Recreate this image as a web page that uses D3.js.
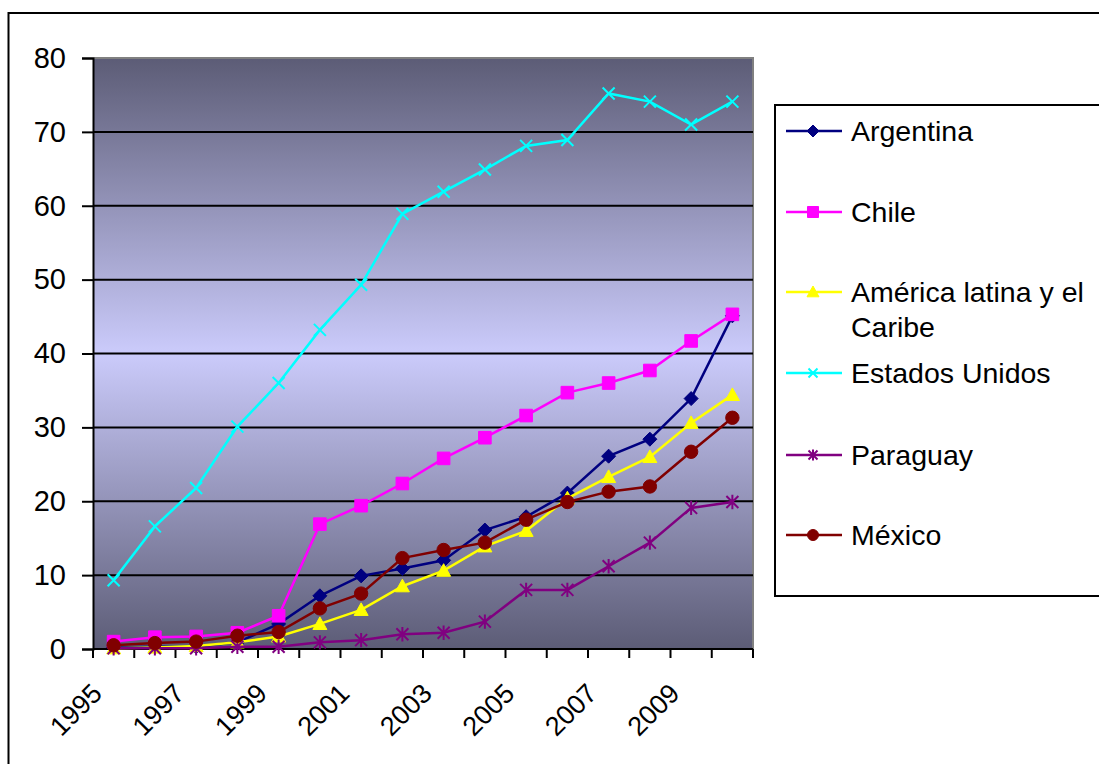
<!DOCTYPE html>
<html>
<head>
<meta charset="utf-8">
<script src="https://cdn.jsdelivr.net/npm/d3@7"></script>
<style>
  html, body { margin: 0; padding: 0; background: #ffffff; }
  svg { display: block; font-family: "Liberation Sans", Arial, sans-serif; }
</style>
</head>
<body>
<svg id="chart" width="1099" height="764"></svg>
<script>
// Years on the category axis
const years = [1995, 1996, 1997, 1998, 1999, 2000, 2001, 2002, 2003, 2004, 2005, 2006, 2007, 2008, 2009, 2010];
const yearLabels = ["1995", "1997", "1999", "2001", "2003", "2005", "2007", "2009"];
const yTicks = [0, 10, 20, 30, 40, 50, 60, 70, 80];

// Series values per year
const argentina = [0.2, 0.3, 0.3, 0.9, 3.4, 7.2, 9.9, 10.9, 12.0, 16.1, 17.9, 21.1, 26.1, 28.4, 33.9, 45.1];
const chile     = [1.0, 1.6, 1.7, 2.2, 4.5, 16.9, 19.4, 22.4, 25.8, 28.6, 31.6, 34.7, 36.0, 37.7, 41.7, 45.3];
const americaLatina = [0.1, 0.2, 0.4, 0.9, 1.7, 3.4, 5.3, 8.5, 10.6, 13.9, 16.0, 20.4, 23.3, 26.0, 30.6, 34.4];
const estadosUnidos = [9.3, 16.6, 21.8, 30.1, 36.0, 43.2, 49.3, 58.9, 61.9, 64.9, 68.1, 68.9, 75.2, 74.1, 71.0, 74.1];
const paraguay  = [0.1, 0.1, 0.1, 0.3, 0.3, 0.9, 1.2, 2.0, 2.2, 3.7, 8.0, 8.0, 11.2, 14.4, 19.1, 19.9];
const mexico    = [0.5, 0.8, 1.0, 1.8, 2.3, 5.5, 7.5, 12.3, 13.4, 14.4, 17.5, 19.9, 21.3, 22.0, 26.7, 31.3];

const seriesNames = ["Argentina", "Chile", "América latina y el\nCaribe", "Estados Unidos", "Paraguay", "México"];
const seriesValues = [argentina, chile, americaLatina, estadosUnidos, paraguay, mexico];
const seriesColors = ["#000080", "#ff00ff", "#ffff00", "#00ffff", "#800080", "#800000"];
const seriesMarkers = ["diamond", "square", "triangle", "x", "star", "circle"];

const svg = d3.select("#chart");

const plot = { left: 93, right: 753, top: 58, bottom: 649 };
const fontSize = 29;

const x = d3.scaleBand().domain(years).range([plot.left, plot.right]).padding(0);
const y = d3.scaleLinear().domain([0, 80]).range([plot.bottom, plot.top]);
const cx = yr => x(yr) + x.bandwidth() / 2;

// Outer chart frame
svg.append("rect")
  .attr("x", 8.5).attr("y", 13).attr("width", 1200).attr("height", 900)
  .attr("fill", "#ffffff").attr("stroke", "#000000").attr("stroke-width", 2);

// Plot background gradient
const defs = svg.append("defs");
const grad = defs.append("linearGradient")
  .attr("id", "plotBg").attr("x1", 0).attr("y1", 0).attr("x2", 0).attr("y2", 1);
grad.append("stop").attr("offset", "0%").attr("stop-color", "#5c5c76");
grad.append("stop").attr("offset", "50%").attr("stop-color", "#cbcbfb");
grad.append("stop").attr("offset", "100%").attr("stop-color", "#5c5c76");

svg.append("rect")
  .attr("x", plot.left).attr("y", plot.top)
  .attr("width", plot.right - plot.left).attr("height", plot.bottom - plot.top)
  .attr("fill", "url(#plotBg)");

// Plot border (top and right in grey)
svg.append("path")
  .attr("d", `M${plot.left},${plot.top}H${plot.right}V${plot.bottom}`)
  .attr("fill", "none").attr("stroke", "#808080").attr("stroke-width", 2);

// Horizontal gridlines
svg.append("g")
  .selectAll("line")
  .data(yTicks.filter(t => t > 0 && t < 80))
  .join("line")
  .attr("x1", plot.left).attr("x2", plot.right)
  .attr("y1", d => y(d)).attr("y2", d => y(d))
  .attr("stroke", "#000000").attr("stroke-width", 2);

// Y axis
const yAxis = svg.append("g")
  .attr("transform", `translate(${plot.left},0)`)
  .call(d3.axisLeft(y).tickValues(yTicks).tickSize(11).tickPadding(16));
yAxis.select(".domain").attr("stroke", "#000000").attr("stroke-width", 2);
yAxis.selectAll(".tick line").attr("stroke", "#000000").attr("stroke-width", 2);
yAxis.selectAll(".tick text")
  .attr("font-size", fontSize).attr("fill", "#000000")
  .attr("font-family", "'Liberation Sans', Arial, sans-serif");

// X axis line and category boundary ticks
const xg = svg.append("g");
xg.append("line")
  .attr("x1", plot.left).attr("x2", plot.right)
  .attr("y1", plot.bottom).attr("y2", plot.bottom)
  .attr("stroke", "#000000").attr("stroke-width", 2);
const boundaries = years.map(yr => x(yr)).concat([x(years[years.length - 1]) + x.bandwidth()]);
xg.selectAll("line.tick")
  .data(boundaries)
  .join("line")
  .attr("class", "tick")
  .attr("x1", d => d).attr("x2", d => d)
  .attr("y1", plot.bottom).attr("y2", plot.bottom + 9)
  .attr("stroke", "#000000").attr("stroke-width", 2);

// Rotated year labels
xg.selectAll("text")
  .data(yearLabels)
  .join("text")
  .attr("transform", d => `translate(${cx(+d) - 10},${plot.bottom + 46}) rotate(-45)`)
  .attr("text-anchor", "end")
  .attr("font-size", 27)
  .attr("fill", "#000000")
  .text(d => d);

// Marker shapes
function markerPath(type, s) {
  switch (type) {
    case "diamond": return `M0,${-s}L${s},0L0,${s}L${-s},0Z`;
    case "square": return `M${-s},${-s}H${s}V${s}H${-s}Z`;
    case "triangle": return `M0,${-s}L${s},${s * 0.8}H${-s}Z`;
    case "x": return `M${-s},${-s}L${s},${s}M${s},${-s}L${-s},${s}`;
    case "star": return `M${-s},${-s}L${s},${s}M${s},${-s}L${-s},${s}M0,${-s * 1.2}V${s * 1.2}`;
    default: return null;
  }
}

function drawMarker(g, type, color, px, py, s) {
  if (type === "circle") {
    g.append("circle").attr("cx", px).attr("cy", py).attr("r", s)
      .attr("fill", color).attr("stroke", color).attr("stroke-width", 1);
  } else if (type === "x" || type === "star") {
    g.append("path").attr("d", markerPath(type, s))
      .attr("transform", `translate(${px},${py})`)
      .attr("fill", "none").attr("stroke", color).attr("stroke-width", 2);
  } else {
    g.append("path").attr("d", markerPath(type, s))
      .attr("transform", `translate(${px},${py})`)
      .attr("fill", color).attr("stroke", color).attr("stroke-width", 1);
  }
}

const markerSize = { diamond: 7, square: 6.3, triangle: 7, x: 6, star: 6, circle: 6.7 };

// Series lines and markers
const line = d3.line().x(d => cx(d.year)).y(d => y(d.value));
seriesValues.forEach((vals, i) => {
  const pts = years.map((yr, j) => ({ year: yr, value: vals[j] }));
  const g = svg.append("g");
  g.append("path").datum(pts)
    .attr("d", line)
    .attr("fill", "none")
    .attr("stroke", seriesColors[i])
    .attr("stroke-width", 2.5);
  pts.forEach(p => drawMarker(g, seriesMarkers[i], seriesColors[i], cx(p.year), y(p.value), markerSize[seriesMarkers[i]]));
});

// Legend
const legend = svg.append("g");
legend.append("rect")
  .attr("x", 775).attr("y", 105).attr("width", 400).attr("height", 491)
  .attr("fill", "#ffffff").attr("stroke", "#000000").attr("stroke-width", 2);

const legendRows = [131, 212, 292, 373, 455, 535];
const legendMarkerSize = { diamond: 6, square: 5.5, triangle: 6, x: 4.5, star: 4.5, circle: 5.5 };
seriesNames.forEach((name, i) => {
  const ly = legendRows[i];
  legend.append("line")
    .attr("x1", 786).attr("x2", 842).attr("y1", ly).attr("y2", ly)
    .attr("stroke", seriesColors[i]).attr("stroke-width", 2.5);
  drawMarker(legend, seriesMarkers[i], seriesColors[i], 813, ly, legendMarkerSize[seriesMarkers[i]]);
  const t = legend.append("text")
    .attr("x", 851).attr("y", ly + 10)
    .attr("font-size", 28.5).attr("fill", "#000000");
  name.split("\n").forEach((part, k) => {
    t.append("tspan").attr("x", 851).attr("dy", k === 0 ? 0 : 35).text(part);
  });
});
</script>
</body>
</html>
